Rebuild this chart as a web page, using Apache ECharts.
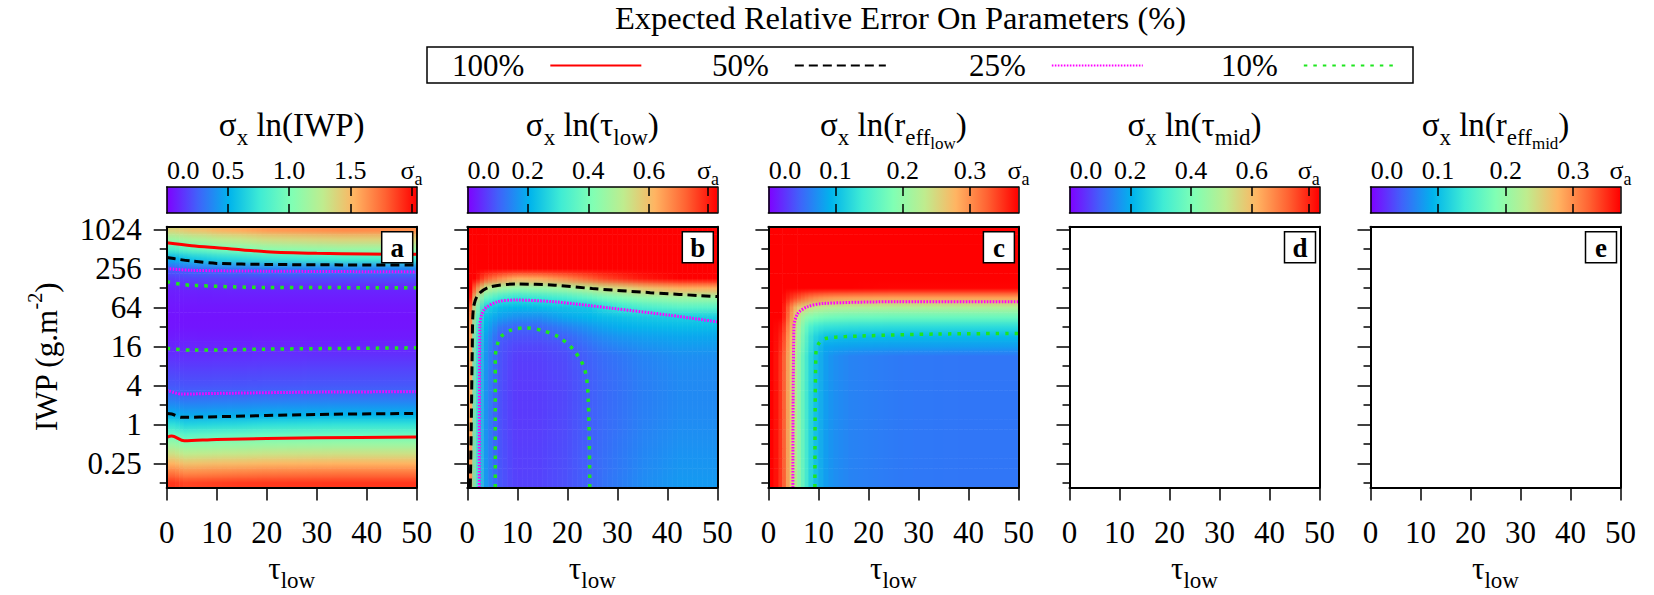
<!DOCTYPE html>
<html><head><meta charset="utf-8">
<script src="https://cdn.jsdelivr.net/npm/echarts@6/dist/echarts.min.js"></script>
<style>html,body{margin:0;padding:0;background:#fff}#chart{width:1654px;height:595px}</style>
</head><body><div id="chart"></div>
<script>
const FONT = "'Liberation Serif','Times New Roman',Times,serif";

// ---------- axes / ticks ----------
const xRange = [0, 50];
const xTickInterval = 10;
const yRangeIWP = [0.106, 1128];
const yTickIWP = [0.25, 1, 4, 16, 64, 256, 1024];
const yTickLabels = ['0.25', '1', '4', '16', '64', '256', '1024'];
const yMinorTickIWP = [0.125, 0.5, 2, 8, 32, 128, 512];

// ---------- colour scale (gnuplot 33,13,10 rainbow) ----------
const RAINBOW = ['#8000ff', '#4062fa', '#00b4ec', '#40ecd4', '#80ffb4', '#bfec8e', '#ffb462', '#ff6232', '#ff0000'];

// ---------- colour bars ----------
const cbMax = [2.043, 0.826, 0.372, 0.823, 0.370];
const cbTickValues = [[0.5, 1.0, 1.5, 2.0], [0.2, 0.4, 0.6, 0.795], [0.1, 0.2, 0.3], [0.2, 0.4, 0.6, 0.788], [0.1, 0.2, 0.3]];
const cbLabelValues = [[0, 0.5, 1.0, 1.5, 2.0], [0, 0.2, 0.4, 0.6, 0.795], [0, 0.1, 0.2, 0.3, 0.372], [0, 0.2, 0.4, 0.6, 0.788], [0, 0.1, 0.2, 0.3, 0.370]];
const cbLabelTexts = [['0.0', '0.5', '1.0', '1.5', 'σa'], ['0.0', '0.2', '0.4', '0.6', 'σa'], ['0.0', '0.1', '0.2', '0.3', 'σa'], ['0.0', '0.2', '0.4', '0.6', 'σa'], ['0.0', '0.1', '0.2', '0.3', 'σa']];

// ---------- panel texts ----------
const panelLetters = ['a', 'b', 'c', 'd', 'e'];
const panelTitles = [
  '{m|σ}{s|x}{m| ln(IWP)}',
  '{m|σ}{s|x}{m| ln(τ}{s|low}{m|)}',
  '{m|σ}{s|x}{m| ln(r}{s|eff}{ss|low}{m|)}',
  '{m|σ}{s|x}{m| ln(τ}{s|mid}{m|)}',
  '{m|σ}{s|x}{m| ln(r}{s|eff}{ss|mid}{m|)}'
];
const mainTitle = 'Expected Relative Error On Parameters (%)';
const LEVELS = ['100%', '50%', '25%', '10%'];

// ---------- heat-map cells: IWP row edges (g m-2), rows listed top (high IWP) to bottom ----------
const yEdgesIWP = [0.106, 0.1487, 0.2102, 0.2973, 0.4204, 0.5946, 0.8409, 1.189, 1.682, 2.378, 3.364, 4.757, 6.727, 9.514, 13.45, 19.03, 26.91, 38.05, 53.82, 76.11, 107.6, 152.2, 215.3, 304.4, 430.5, 608.9, 861.1, 1128];

const xEdgesA = [0, 2.5, 5, 10, 20, 50];
const sigmaIWP = [
  [1.38, 1.43, 1.47, 1.55, 1.65],
  [1.14, 1.18, 1.22, 1.30, 1.40],
  [0.83, 0.89, 0.94, 1.03, 1.13],
  [0.50, 0.56, 0.62, 0.69, 0.78],
  [0.26, 0.29, 0.32, 0.34, 0.37],
  [0.15, 0.17, 0.18, 0.18, 0.19],
  [0.085, 0.09, 0.095, 0.10, 0.10],
  [0.07, 0.072, 0.074, 0.075, 0.075],
  [0.06, 0.06, 0.06, 0.06, 0.06],
  [0.05, 0.05, 0.05, 0.05, 0.05],
  [0.055, 0.055, 0.055, 0.055, 0.055],
  [0.07, 0.072, 0.07, 0.07, 0.068],
  [0.095, 0.098, 0.097, 0.095, 0.093],
  [0.125, 0.12, 0.12, 0.125, 0.128],
  [0.16, 0.154, 0.155, 0.157, 0.164],
  [0.194, 0.187, 0.188, 0.19, 0.197],
  [0.228, 0.22, 0.22, 0.222, 0.23],
  [0.29, 0.26, 0.27, 0.27, 0.285],
  [0.39, 0.37, 0.37, 0.38, 0.40],
  [0.50, 0.47, 0.475, 0.485, 0.507],
  [0.71, 0.65, 0.66, 0.68, 0.72],
  [0.92, 0.86, 0.88, 0.90, 0.93],
  [1.13, 1.07, 1.08, 1.10, 1.13],
  [1.33, 1.27, 1.28, 1.30, 1.33],
  [1.53, 1.47, 1.48, 1.50, 1.53],
  [1.73, 1.67, 1.68, 1.70, 1.73],
  [1.90, 1.86, 1.87, 1.89, 1.90]
];

const xEdgesB = [0, 1, 2.5, 5, 8, 12, 17, 22, 27, 35, 50];
const sigmaTauLow = [
  [1, 1, 1, 1, 1, 1, 1, 1, 1, 1],
  [1, 1, 1, 1, 1, 1, 1, 1, 1, 1],
  [1, 1, 1, 1, 1, 1, 1, 1, 1, 1],
  [1, 1, 1, 1, 0.98, 0.97, 0.98, 1, 1, 1],
  [1, 1, 1, 0.9, 0.85, 0.86, 0.9, 0.95, 1, 1],
  [1, 0.85, 0.74, 0.68, 0.63, 0.64, 0.68, 0.73, 0.78, 0.85],
  [0.9, 0.7, 0.52, 0.47, 0.44, 0.45, 0.47, 0.51, 0.56, 0.63],
  [0.8, 0.55, 0.37, 0.31, 0.29, 0.30, 0.32, 0.36, 0.41, 0.46],
  [0.72, 0.45, 0.26, 0.22, 0.21, 0.22, 0.23, 0.24, 0.30, 0.35],
  [0.68, 0.40, 0.22, 0.18, 0.16, 0.16, 0.19, 0.21, 0.23, 0.25],
  [0.66, 0.37, 0.20, 0.13, 0.105, 0.11, 0.14, 0.17, 0.20, 0.22],
  [0.65, 0.35, 0.18, 0.10, 0.085, 0.088, 0.105, 0.14, 0.17, 0.19],
  [0.64, 0.34, 0.17, 0.092, 0.072, 0.075, 0.088, 0.12, 0.15, 0.175],
  [0.63, 0.33, 0.165, 0.088, 0.064, 0.068, 0.08, 0.105, 0.13, 0.16],
  [0.63, 0.33, 0.165, 0.087, 0.062, 0.066, 0.078, 0.102, 0.127, 0.157],
  [0.63, 0.33, 0.163, 0.086, 0.061, 0.065, 0.077, 0.1, 0.125, 0.155],
  [0.63, 0.33, 0.162, 0.085, 0.06, 0.064, 0.076, 0.099, 0.124, 0.153],
  [0.63, 0.33, 0.162, 0.085, 0.06, 0.064, 0.076, 0.099, 0.124, 0.153],
  [0.63, 0.33, 0.162, 0.085, 0.06, 0.064, 0.076, 0.099, 0.124, 0.154],
  [0.63, 0.33, 0.162, 0.085, 0.06, 0.064, 0.077, 0.1, 0.125, 0.155],
  [0.63, 0.33, 0.163, 0.086, 0.061, 0.065, 0.078, 0.1, 0.126, 0.157],
  [0.64, 0.34, 0.164, 0.087, 0.062, 0.066, 0.079, 0.101, 0.128, 0.16],
  [0.64, 0.34, 0.165, 0.088, 0.063, 0.067, 0.08, 0.102, 0.13, 0.162],
  [0.65, 0.35, 0.166, 0.089, 0.064, 0.068, 0.081, 0.103, 0.132, 0.165],
  [0.65, 0.35, 0.167, 0.09, 0.065, 0.069, 0.082, 0.104, 0.134, 0.168],
  [0.66, 0.36, 0.168, 0.091, 0.066, 0.07, 0.083, 0.105, 0.136, 0.17],
  [0.67, 0.36, 0.17, 0.092, 0.067, 0.071, 0.084, 0.106, 0.138, 0.172]
];

const xEdgesC = [0, 2, 3.5, 5, 6.5, 8, 10, 13, 20, 30, 50];
const sigmaReffLow = [
  [0.5, 0.5, 0.5, 0.5, 0.5, 0.5, 0.5, 0.5, 0.5, 0.5],
  [0.5, 0.5, 0.5, 0.5, 0.5, 0.5, 0.5, 0.5, 0.5, 0.5],
  [0.5, 0.5, 0.5, 0.5, 0.5, 0.5, 0.5, 0.5, 0.5, 0.5],
  [0.5, 0.5, 0.5, 0.5, 0.5, 0.5, 0.5, 0.5, 0.5, 0.5],
  [0.5, 0.5, 0.5, 0.5, 0.5, 0.5, 0.5, 0.5, 0.5, 0.5],
  [0.5, 0.5, 0.5, 0.5, 0.5, 0.5, 0.5, 0.5, 0.5, 0.5],
  [0.5, 0.45, 0.43, 0.42, 0.40, 0.386, 0.377, 0.372, 0.37, 0.37],
  [0.5, 0.41, 0.35, 0.335, 0.32, 0.306, 0.297, 0.292, 0.29, 0.29],
  [0.5, 0.39, 0.316, 0.266, 0.25, 0.236, 0.227, 0.222, 0.22, 0.22],
  [0.5, 0.374, 0.304, 0.244, 0.2, 0.186, 0.177, 0.172, 0.17, 0.17],
  [0.5, 0.36, 0.29, 0.23, 0.175, 0.14, 0.131, 0.127, 0.125, 0.125],
  [0.5, 0.352, 0.282, 0.222, 0.167, 0.122, 0.104, 0.099, 0.097, 0.097],
  [0.5, 0.347, 0.277, 0.217, 0.162, 0.117, 0.087, 0.082, 0.08, 0.08],
  [0.5, 0.34, 0.27, 0.21, 0.155, 0.11, 0.08, 0.065, 0.06, 0.058],
  [0.5, 0.34, 0.27, 0.21, 0.155, 0.11, 0.08, 0.065, 0.06, 0.058],
  [0.5, 0.34, 0.27, 0.21, 0.155, 0.11, 0.08, 0.065, 0.06, 0.058],
  [0.5, 0.34, 0.27, 0.21, 0.155, 0.11, 0.08, 0.065, 0.06, 0.058],
  [0.5, 0.34, 0.27, 0.21, 0.155, 0.11, 0.08, 0.065, 0.06, 0.058],
  [0.5, 0.34, 0.27, 0.21, 0.155, 0.11, 0.08, 0.065, 0.06, 0.058],
  [0.5, 0.34, 0.27, 0.21, 0.155, 0.11, 0.08, 0.065, 0.06, 0.058],
  [0.5, 0.34, 0.27, 0.21, 0.155, 0.11, 0.08, 0.065, 0.06, 0.058],
  [0.5, 0.34, 0.27, 0.21, 0.155, 0.11, 0.08, 0.065, 0.06, 0.058],
  [0.5, 0.34, 0.27, 0.21, 0.155, 0.11, 0.08, 0.065, 0.06, 0.058],
  [0.5, 0.34, 0.27, 0.21, 0.155, 0.11, 0.08, 0.065, 0.06, 0.058],
  [0.5, 0.34, 0.27, 0.21, 0.155, 0.11, 0.08, 0.065, 0.06, 0.058],
  [0.5, 0.34, 0.27, 0.21, 0.155, 0.11, 0.08, 0.065, 0.06, 0.058],
  [0.5, 0.34, 0.27, 0.21, 0.155, 0.11, 0.08, 0.065, 0.06, 0.058]
];

// ---------- contour lines: [tau_low, IWP (g m-2)] ----------
const aRedUpper = [[0, 637], [5, 575], [10, 534], [20, 463], [30, 437], [40, 428], [50, 422]];
const aBlackUpper = [[0, 378], [2.5, 352], [5, 332], [10, 306], [20, 295], [35, 290], [50, 288]];
const aMagentaUpper = [[0, 254], [5, 239], [20, 232], [50, 226]];
const aGreenUpper = [[0, 159], [2.5, 147], [5, 140], [20, 130], [50, 129]];
const aGreenLower = [[0, 14.9], [5, 14.0], [20, 14.5], [50, 15.2]];
const aMagentaLower = [[0, 3.38], [3, 2.93], [10, 3.0], [30, 3.14], [50, 3.18]];
const aBlackLower = [[0, 1.47], [1, 1.44], [3, 1.28], [10, 1.31], [30, 1.42], [50, 1.47]];
const aRedLower = [[0, 0.627], [1, 0.657], [3.5, 0.557], [10, 0.584], [30, 0.62], [50, 0.635]];
const bBlack = [[0.6, 0.106], [0.8, 1], [1.0, 16], [1.2, 60], [2.1, 99], [4.4, 131], [9.8, 147], [17.5, 141], [25, 125], [36.6, 108], [50, 94]];
const bMagenta = [[2.4, 0.106], [2.5, 32], [3.3, 58], [6, 78], [9.8, 83], [17.5, 78], [28.9, 62], [40.4, 48.5], [50, 38.3]];
const bGreen = [[5.6, 0.106], [5.6, 11], [6.0, 17], [6.7, 22.5], [8.7, 28.4], [11.7, 30.9], [14.8, 28.4], [18.2, 22.5], [21.3, 14.0], [23.5, 7.0], [24.2, 2.36], [24.5, 0.106]];
const cMagenta = [[4.9, 0.106], [5.1, 32], [5.9, 51.6], [7.8, 65.3], [10.9, 73.5], [26.1, 78.2], [50, 78.2]];
const cGreen = [[9.3, 0.106], [9.5, 12.5], [10.1, 17.8], [11.6, 21.3], [18.5, 23.1], [33.8, 24.8], [50, 25.3]];

// ---------- layout ----------
const PANEL_LEFT = [166.7, 467.3, 768.4, 1069.5, 1370.5];
const PANEL_W = 250, PANEL_TOP = 226.7, PANEL_H = 260.7;
const CB_TOP = 187, CB_H = 26;
const LEGEND_LEFT = [452, 712, 969, 1221];
const LEVEL_STYLE = {
  '100%': { color: '#ff0000', width: 3, type: 'solid' },
  '50%': { color: '#000000', width: 3, type: [9, 5] },
  '25%': { color: '#ff00ff', width: 3, type: [1.6, 1.4] },
  '10%': { color: '#1ee61e', width: 3.5, type: [3.5, 6] }
};

// ---------- build ----------
const L2 = Math.log2;
const yMin = L2(yRangeIWP[0]), yMax = L2(yRangeIWP[1]);

function heatCells(xEdges, rows) {
  const out = [];
  const n = rows.length;
  rows.forEach((row, r) => {
    const lo = L2(yEdgesIWP[n - 1 - r]), hi = L2(yEdgesIWP[n - r]);
    row.forEach((v, j) => out.push([xEdges[j], xEdges[j + 1], lo, hi, v]));
  });
  return out;
}
const heatShape = {};   // seriesIndex -> [nRows, nCols]
const lerp = (t, p, q) => echarts.color.lerp(t, [p, q]);
// each cell is drawn with its own visualMap colour, shaded toward its neighbours' colours
function renderCell(params, api) {
  const a = api.coord([api.value(0), api.value(3)]);
  const b = api.coord([api.value(1), api.value(2)]);
  const [nR, nC] = heatShape[params.seriesIndex];
  const i = params.dataIndexInside;
  const r = Math.floor(i / nC), j = i % nC;
  const col = (dr, dc) => {
    const rr = Math.min(nR - 1, Math.max(0, r + dr)), cc = Math.min(nC - 1, Math.max(0, j + dc));
    return api.visual('color', rr * nC + cc);
  };
  const c = col(0, 0);
  const lines = [-1, 0, 1].map(dr => {
    const mid = dr === 0 ? c : lerp(0.5, c, col(dr, 0));
    const edge = dc => dr === 0 ? lerp(0.5, c, col(0, dc))
      : lerp(0.5, lerp(0.5, c, col(dr, 0)), lerp(0.5, col(0, dc), col(dr, dc)));
    return [edge(-1), mid, edge(1)];
  });
  const w = b[0] - a[0], h = b[1] - a[1];
  const n = Math.max(1, Math.ceil(w / 5));
  const children = [];
  for (let s = 0; s < n; s++) {
    const f = (s + 0.5) / n;
    const at = t => f < 0.5 ? lerp(f * 2, t[0], t[1]) : lerp((f - 0.5) * 2, t[1], t[2]);
    children.push({ type: 'rect',
      shape: { x: a[0] + w * s / n, y: a[1], width: w / n + 0.6, height: h + 0.5 },
      style: { fill: new echarts.graphic.LinearGradient(0, 0, 0, 1, [
        { offset: 0, color: at(lines[0]) }, { offset: 0.5, color: at(lines[1]) }, { offset: 1, color: at(lines[2]) }]) } });
  }
  return { type: 'group', children };
}
const barStops = RAINBOW.map((c, i) => ({ offset: i / (RAINBOW.length - 1), color: c }));
function renderBar(params, api) {
  const a = api.coord([api.value(0), 1]);
  const b = api.coord([api.value(1), 0]);
  return { type: 'rect', shape: { x: a[0], y: a[1], width: b[0] - a[0], height: b[1] - a[1] },
    style: { fill: new echarts.graphic.LinearGradient(0, 0, 1, 0, barStops) } };
}

const blk = { color: '#000', width: 2 };
const grid = [], xAxis = [], yAxis = [], series = [], visualMap = [];

const tickRich = { t: { fontFamily: FONT, fontSize: 31, lineHeight: 32, color: '#000' } };
const nameRich = {
  m: { fontFamily: FONT, fontSize: 31, lineHeight: 32, verticalAlign: 'top', color: '#000' },
  s: { fontFamily: FONT, fontSize: 23, lineHeight: 8, padding: [16, 0, 0, 0], verticalAlign: 'top', color: '#000' }
};
const yNameRich = {
  m: { fontFamily: FONT, fontSize: 31, lineHeight: 30, padding: [6, 0, 0, 0], verticalAlign: 'top', color: '#000' },
  sup: { fontFamily: FONT, fontSize: 20, lineHeight: 20, verticalAlign: 'top', color: '#000' }
};
const cbRich = {
  n: { fontFamily: FONT, fontSize: 26, lineHeight: 28, verticalAlign: 'top', color: '#000' },
  first: { fontFamily: FONT, fontSize: 26, lineHeight: 28, verticalAlign: 'top', color: '#000', padding: [0, 0, 0, 33] },
  sub: { fontFamily: FONT, fontSize: 18, lineHeight: 7, padding: [13, 0, 0, 0], verticalAlign: 'top', color: '#000' }
};

// panels
for (let p = 0; p < 5; p++) {
  grid.push({ left: PANEL_LEFT[p], top: PANEL_TOP, width: PANEL_W, height: PANEL_H, outerBoundsMode: 'none' });
  xAxis.push({
    gridIndex: p, type: 'value', min: xRange[0], max: xRange[1], interval: xTickInterval, position: 'bottom', z: 10,
    axisLine: { show: true, onZero: false, lineStyle: blk },
    axisTick: { show: true, inside: false, length: 13, lineStyle: { color: '#000', width: 1.5 } },
    axisLabel: { show: true, margin: 29, showMinLabel: true, showMaxLabel: true, rich: tickRich,
      formatter: v => '{t|' + v + '}' },
    splitLine: { show: false },
    name: '{m|τ}{s|low}', nameLocation: 'middle', nameGap: 66, nameTextStyle: { rich: nameRich }
  });
  xAxis.push({
    gridIndex: p, type: 'value', min: xRange[0], max: xRange[1], position: 'top', z: 10,
    axisLine: { show: true, onZero: false, lineStyle: blk }, axisTick: { show: false }, axisLabel: { show: false }, splitLine: { show: false }
  });
  yAxis.push({
    gridIndex: p, type: 'value', min: yMin, max: yMax, position: 'left', z: 10,
    axisLine: { show: true, onZero: false, lineStyle: blk },
    axisTick: { show: true, inside: false, length: 13, customValues: yTickIWP.map(L2), lineStyle: { color: '#000', width: 1.5 } },
    axisLabel: {
      show: p === 0, customValues: yTickIWP.map(L2), margin: 25, rich: tickRich,
      formatter: v => { const i = yTickIWP.findIndex(t => Math.abs(L2(t) - v) < 1e-6); return i >= 0 ? '{t|' + yTickLabels[i] + '}' : ''; }
    },
    splitLine: { show: false },
    name: p === 0 ? '{m|IWP (g.m}{sup|-2}{m|)}' : '', nameLocation: 'middle', nameRotate: 90, nameGap: 112,
    nameTextStyle: { rich: yNameRich }
  });
  yAxis.push({
    gridIndex: p, type: 'value', min: yMin, max: yMax, position: 'left', z: 10,
    axisLine: { show: false },
    axisTick: { show: true, inside: false, length: 7, customValues: yMinorTickIWP.map(L2), lineStyle: { color: '#000', width: 1.5 } },
    axisLabel: { show: false }, splitLine: { show: false }
  });
  yAxis.push({
    gridIndex: p, type: 'value', min: yMin, max: yMax, position: 'right', z: 10,
    axisLine: { show: true, onZero: false, lineStyle: blk }, axisTick: { show: false }, axisLabel: { show: false }, splitLine: { show: false }
  });
}

// colour bars
for (let p = 0; p < 5; p++) {
  const g = 5 + p;
  grid.push({ left: PANEL_LEFT[p], top: CB_TOP, width: PANEL_W, height: CB_H, outerBoundsMode: 'none' });
  const tickCfg = { show: true, inside: true, length: 9, customValues: cbTickValues[p], lineStyle: { color: '#000', width: 1.5 } };
  xAxis.push({
    gridIndex: g, type: 'value', min: 0, max: cbMax[p], position: 'bottom', z: 10,
    axisLine: { show: true, onZero: false, lineStyle: { color: '#000', width: 1.5 } }, axisTick: tickCfg,
    axisLabel: { show: false }, splitLine: { show: false }
  });
  xAxis.push({
    gridIndex: g, type: 'value', min: 0, max: cbMax[p], position: 'top', z: 10,
    axisLine: { show: true, onZero: false, lineStyle: { color: '#000', width: 1.5 } }, axisTick: tickCfg,
    axisLabel: {
      show: true, customValues: cbLabelValues[p], margin: 2, showMinLabel: true, showMaxLabel: true, rich: cbRich,
      formatter: v => {
        const i = cbLabelValues[p].findIndex(t => Math.abs(t - v) < 1e-6);
        if (i < 0) return '';
        const t = cbLabelTexts[p][i];
        if (i === 0) return '{first|' + t + '}';
        if (t === 'σa') return '{n|σ}{sub|a}';
        return '{n|' + t + '}';
      }
    },
    splitLine: { show: false }
  });
  yAxis.push({ gridIndex: g, type: 'value', min: 0, max: 1, position: 'left', z: 10,
    axisLine: { show: true, onZero: false, lineStyle: { color: '#000', width: 1.5 } }, axisTick: { show: false }, axisLabel: { show: false }, splitLine: { show: false } });
  yAxis.push({ gridIndex: g, type: 'value', min: 0, max: 1, position: 'right', z: 10,
    axisLine: { show: true, onZero: false, lineStyle: { color: '#000', width: 1.5 } }, axisTick: { show: false }, axisLabel: { show: false }, splitLine: { show: false } });
  series.push({ type: 'custom', name: 'colorbar-' + panelLetters[p], xAxisIndex: 10 + 2 * p, yAxisIndex: 15 + 2 * p,
    renderItem: renderBar, encode: { x: [0, 1] }, data: [[0, cbMax[p]]], silent: true, z: 1 });
}

// heat maps
const heat = [[xEdgesA, sigmaIWP], [xEdgesB, sigmaTauLow], [xEdgesC, sigmaReffLow]];
heat.forEach(([xe, rows], p) => {
  heatShape[series.length] = [rows.length, xe.length - 1];
  series.push({ type: 'custom', name: 'sigma-' + panelLetters[p], xAxisIndex: 2 * p, yAxisIndex: 3 * p,
    renderItem: renderCell, encode: { x: [0, 1], y: [2, 3] }, data: heatCells(xe, rows), silent: true, z: 1 });
  visualMap.push({ type: 'continuous', show: false, seriesIndex: series.length - 1, dimension: 4,
    min: 0, max: cbMax[p], inRange: { color: RAINBOW } });
});

// contours
const contours = [
  [0, '100%', aRedUpper], [0, '50%', aBlackUpper], [0, '25%', aMagentaUpper], [0, '10%', aGreenUpper],
  [0, '10%', aGreenLower], [0, '25%', aMagentaLower], [0, '50%', aBlackLower], [0, '100%', aRedLower],
  [1, '50%', bBlack], [1, '25%', bMagenta], [1, '10%', bGreen],
  [2, '25%', cMagenta], [2, '10%', cGreen]
];
contours.forEach(([p, lvl, pts]) => {
  const st = LEVEL_STYLE[lvl];
  series.push({ type: 'line', name: lvl, xAxisIndex: 2 * p, yAxisIndex: 3 * p, symbol: 'none', smooth: 0.3,
    data: pts.map(d => [d[0], L2(d[1])]), lineStyle: { color: st.color, width: st.width, type: st.type },
    itemStyle: { color: st.color }, silent: true, z: 3 });
});

const legend = LEVELS.map((lvl, i) => ({
  data: [lvl], left: LEGEND_LEFT[i], top: 50, orient: 'horizontal', align: 'right', padding: 0,
  itemWidth: 91, itemHeight: 14, selectedMode: false,
  itemStyle: { opacity: 0 },
  textStyle: { fontFamily: FONT, fontSize: 31, color: '#000', padding: [0, 21, 0, 0] }
}));

const titleRich = {
  m: { fontFamily: FONT, fontSize: 33, lineHeight: 32, verticalAlign: 'top', fill: '#000' },
  s: { fontFamily: FONT, fontSize: 23, lineHeight: 8, padding: [18, 0, 0, 0], verticalAlign: 'top', fill: '#000' },
  ss: { fontFamily: FONT, fontSize: 17, lineHeight: 6, padding: [27, 0, 0, 0], verticalAlign: 'top', fill: '#000' }
};
const graphics = [
  { type: 'text', x: 900.5, y: 18, z: 100, style: { text: mainTitle, fontFamily: FONT, fontSize: 32.5, fill: '#000', align: 'center', verticalAlign: 'middle' } },
  { type: 'rect', z: 100, shape: { x: 427, y: 47, width: 986, height: 36 }, style: { fill: 'none', stroke: '#000', lineWidth: 1.5 } }
];
for (let p = 0; p < 5; p++) {
  const cx = PANEL_LEFT[p] + PANEL_W / 2, right = PANEL_LEFT[p] + PANEL_W;
  graphics.push({ type: 'text', x: cx, y: 108, z: 100, style: { text: panelTitles[p], rich: titleRich, fontFamily: FONT, fontSize: 33, fill: '#000', align: 'center', verticalAlign: 'top' } });
  graphics.push({ type: 'rect', z: 100, shape: { x: right - 35, y: 231.7, width: 31, height: 31 }, style: { fill: '#fff', stroke: '#000', lineWidth: 1.5 } });
  graphics.push({ type: 'text', z: 101, x: right - 19.5, y: 247.5, style: { text: panelLetters[p], fontFamily: FONT, fontSize: 27, fontWeight: 'bold', fill: '#000', align: 'center', verticalAlign: 'middle' } });
}

const chart = echarts.init(document.getElementById('chart'), null, { renderer: 'svg' });
chart.setOption({
  animation: false,
  backgroundColor: '#fff',
  textStyle: { fontFamily: FONT },
  grid, xAxis, yAxis, series, visualMap, legend,
  graphic: { elements: graphics }
});
</script></body></html>
